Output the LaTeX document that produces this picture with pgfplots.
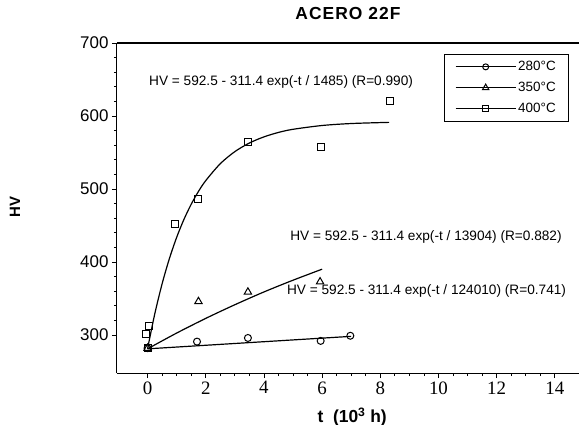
\documentclass[border=0pt]{standalone}
\usepackage{fontspec}
\setmainfont{Liberation Sans}
\newfontfamily\serifticks{Liberation Serif}
\usepackage{pgfplots}
\pgfplotsset{compat=1.18}

% Hardness measurements (t in 10^3 h, HV)
\pgfplotstableread{
t HV
0.00 282
1.70 291
3.45 296
5.95 292
6.97 299
}\dataA
\pgfplotstableread{
t HV
0.00 282
1.75 346
3.45 359
5.93 373
}\dataB
\pgfplotstableread{
t HV
0.00 282
-0.05 302
0.05 313
0.95 452
1.72 487
3.45 565
5.97 557
8.32 620
}\dataC

\begin{document}
\begin{tikzpicture}
\begin{axis}[
  name=ax,
  scale only axis,
  width=462bp, height=330bp,
  xmin=-1.05, xmax=14.83,
  ymin=248, ymax=700,
  clip=false,
  axis x line*=bottom, axis y line*=left,
  axis line style={line width=1bp},
  xtick={0,2,...,14}, ytick={300,400,...,700},
  minor x tick num=3, minor y tick num=4,
  tick align=outside,
  major tick length=5bp, minor tick length=3bp,
  tick style={black, line width=0.8bp},
  /pgf/number format/assume math mode=true,
  xticklabel style={font=\fontsize{19}{19}\selectfont\serifticks},
  yticklabel style={font=\fontsize{17}{17}\selectfont},
  xlabel={t\ \ (10\textsuperscript{3} h)},
  xlabel style={font=\bfseries\fontsize{17.5}{17.5}\selectfont,
    at={(axis description cs:0.509,-0.133)}, anchor=center},
  ylabel={HV},
  ylabel style={font=\bfseries\fontsize{15}{15}\selectfont,
    at={(axis description cs:-0.221,0.503)}, anchor=center},
  title={ACERO 22F},
  title style={font=\bfseries\fontsize{17.5}{17.5}\selectfont\addfontfeatures{LetterSpace=6},
    at={(axis description cs:0.5,1.0727)}, anchor=center},
  legend style={at={(axis cs:14.49,684.9)}, anchor=north east,
    draw=black, line width=0.8bp, fill=white,
    font=\fontsize{13.5}{13.5}\selectfont,
    inner xsep=11bp, inner ysep=5bp, row sep=6bp,
    cells={anchor=west}},
  legend image code/.code={%
    \draw[mark repeat=2,mark phase=2,#1]
      plot coordinates {(0bp,0bp) (30bp,0bp) (60bp,0bp)};},
]
% fitted curves HV = 592.5 - 311.4 exp(-t/tau)
\addplot[forget plot, black, line width=1.2bp, smooth] coordinates {
(0,281.1) (7,298.2)};
\addplot[forget plot, black, line width=1.2bp, smooth] coordinates {
(0,281.1) (1,302.7) (2,322.8) (3,341.5) (4,359.0) (5,375.1) (6,390.2)};
\addplot[forget plot, black, line width=1.2bp, smooth] coordinates {
(0,281.1) (0.25,329.3) (0.5,370.1) (0.75,404.6) (1,433.7) (1.25,458.3)
(1.5,479.1) (1.75,496.7) (2,511.5) (2.5,534.7) (3,551.2) (3.5,563.0)
(4,571.4) (4.5,577.5) (5,581.8) (6,587.0) (7,589.7) (8.3,591.3)};

% measured points
\addplot[forget plot, only marks, mark=o, mark size=3.5bp,
  mark options={line width=1bp, black}] table[x=t,y=HV] {\dataA};
\addplot[forget plot, only marks, mark=triangle, mark size=4.2bp,
  mark options={line width=1bp, black}] table[x=t,y=HV] {\dataB};
\addplot[forget plot, only marks, mark=square, mark size=3.5bp,
  mark options={line width=1bp, black}] table[x=t,y=HV] {\dataC};

% fit equations
\node[font=\fontsize{13.7}{13.7}\selectfont] at (axis cs:4.59,647)
  {HV = 592.5 - 311.4 exp(-t / 1485) (R=0.990)};
\node[font=\fontsize{13.7}{13.7}\selectfont] at (axis cs:9.57,434.7)
  {HV = 592.5 - 311.4 exp(-t / 13904) (R=0.882)};
\node[font=\fontsize{13.7}{13.7}\selectfont] at (axis cs:9.59,360.5)
  {HV = 592.5 - 311.4 exp(-t / 124010) (R=0.741)};

% top frame line
\draw[black, line width=1.2bp] (axis cs:-1.05,700) -- (axis cs:14.83,700);

% legend
\addlegendimage{black, line width=1bp, mark=o, mark size=3bp}
\addlegendentry{280°C}
\addlegendimage{black, line width=1bp, mark=triangle, mark size=3.6bp}
\addlegendentry{350°C}
\addlegendimage{black, line width=1bp, mark=square, mark size=3bp}
\addlegendentry{400°C}
\end{axis}
\pgfresetboundingbox
\path[use as bounding box] ([shift={(-117bp,-52bp)}]ax.south west)
  rectangle ([shift={(0bp,43bp)}]ax.north east);
\end{tikzpicture}
\end{document}
